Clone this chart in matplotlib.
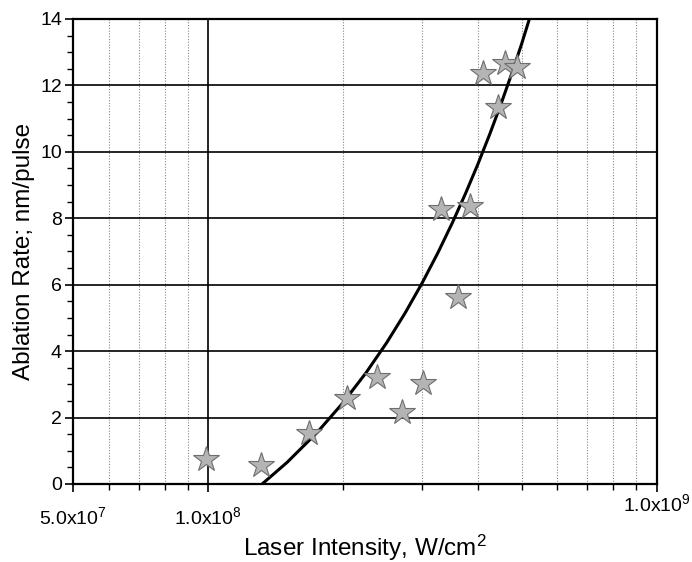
import numpy as np
import matplotlib
matplotlib.use("Agg")
import matplotlib.pyplot as plt
from matplotlib.ticker import FixedLocator, NullFormatter, MultipleLocator

plt.rcParams['font.family'] = ['Liberation Sans', 'DejaVu Sans']
plt.rcParams['mathtext.fontset'] = 'custom'
plt.rcParams['mathtext.rm'] = 'Liberation Sans'
plt.rcParams['mathtext.it'] = 'Liberation Sans'

intensity = [0.99e8, 1.31e8, 1.68e8, 2.04e8, 2.38e8, 2.71e8, 3.02e8,
             3.60e8, 3.31e8, 3.83e8, 4.42e8, 4.09e8, 4.60e8, 4.89e8]
rate = [0.75, 0.57, 1.54, 2.59, 3.22, 2.17, 3.04,
        5.63, 8.28, 8.37, 11.35, 12.38, 12.68, 12.56]

# fitted curve
fit_x = [1.32e8, 1.5e8, 1.75e8, 2.0e8, 2.25e8, 2.5e8, 2.75e8, 3.0e8, 3.25e8,
         3.5e8, 3.75e8, 4.0e8, 4.25e8, 4.5e8, 4.75e8, 5.0e8, 5.3e8]
fit_y = [0.0, 0.65, 1.55, 2.45, 3.35, 4.25, 5.15, 6.05, 6.95,
         7.85, 8.75, 9.65, 10.55, 11.45, 12.35, 13.25, 14.35]

xticks_major = [5e7, 1e8, 1e9]
xtick_labels = ['5.0x10$^{7}$', '1.0x10$^{8}$', '1.0x10$^{9}$']
xticks_minor = [6e7, 7e7, 8e7, 9e7, 2e8, 3e8, 4e8, 5e8, 6e8, 7e8, 8e8, 9e8]

fig = plt.figure(figsize=(6.92, 5.62), dpi=100)
ax = fig.add_axes([0.1055, 0.1388, 0.8435, 0.8275])

ax.set_xscale('log')
ax.set_xlim(5e7, 1e9)
ax.set_ylim(0, 14)

# grid
for xv in xticks_minor:
    ax.axvline(xv, color='#888888', linestyle=(0, (1, 1.5)), linewidth=0.8, zorder=1)
ax.axvline(1e8, color='black', linewidth=1.2, zorder=1)
for yv in [2, 4, 6, 8, 10, 12]:
    ax.axhline(yv, color='black', linewidth=1.2, zorder=1)

ax.plot(fit_x, fit_y, color='black', linewidth=2.2, zorder=3, clip_on=True)
ax.plot(intensity, rate, linestyle='None', marker='*', markersize=19,
        markerfacecolor='#b4b4b4', markeredgecolor='#6e6e6e',
        markeredgewidth=0.8, zorder=4)

ax.xaxis.set_major_locator(FixedLocator(xticks_major))
ax.set_xticklabels(xtick_labels)
ax.xaxis.set_minor_locator(FixedLocator(xticks_minor))
ax.xaxis.set_minor_formatter(NullFormatter())
ax.yaxis.set_major_locator(MultipleLocator(2))
ax.yaxis.set_minor_locator(MultipleLocator(0.5))

ax.tick_params(axis='both', which='major', direction='out', length=6, width=1.2,
               labelsize=14, colors='black')
ax.tick_params(axis='both', which='minor', direction='out', length=4, width=1.0)
ax.tick_params(axis='x', which='major', pad=10)
ax.tick_params(axis='y', which='major', pad=2)

ticks = ax.xaxis.get_major_ticks()
ticks[2].tick1line.set_markersize(10)
ticks[2].set_pad(0.5)

for s in ax.spines.values():
    s.set_linewidth(1.6)

# axis titles placed where they sit in the original
fig.text(365 / 692, 1 - 556 / 562, 'Laser Intensity, W/cm$^{2}$', fontsize=17.5,
         ha='center', va='baseline')
fig.text(24 / 692, 1 - 251 / 562, 'Ablation Rate; nm/pulse', fontsize=17.5,
         ha='center', va='center', rotation=90)

fig.savefig('out.png', dpi=100)
